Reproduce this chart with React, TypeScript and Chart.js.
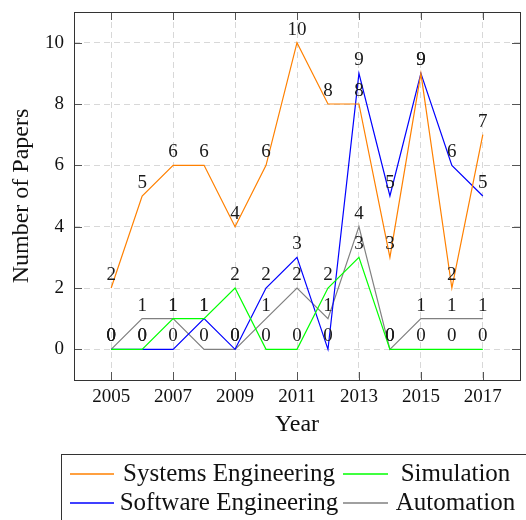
import React, { useEffect, useRef } from "react";
import { Chart, registerables } from "chart.js";

Chart.register(...registerables);

const years = [2005, 2006, 2007, 2008, 2009, 2010, 2011, 2012, 2013, 2014, 2015, 2016, 2017];
const systemsEngineering = [2, 5, 6, 6, 4, 6, 10, 8, 8, 3, 9, 2, 7];
const simulation = [0, 0, 1, 1, 2, 0, 0, 2, 3, 0, 0, 0, 0];
const softwareEngineering = [0, 0, 0, 1, 0, 2, 3, 0, 9, 5, 9, 6, 5];
const automation = [0, 1, 1, 0, 0, 1, 2, 1, 4, 0, 1, 1, 1];
const xTickYears = [2005, 2007, 2009, 2011, 2013, 2015, 2017];
const yTickValues = [0, 2, 4, 6, 8, 10];

const SERIF = "'Liberation Serif', 'Times New Roman', serif";

const toPoints = (arr: number[]) => years.map((x, i) => ({ x, y: arr[i] }));

const framePlugin = {
  id: "frameTicks",
  afterDraw(chart: any) {
    const { ctx, chartArea, scales } = chart;
    const { left, right, top, bottom } = chartArea;
    ctx.save();
    ctx.strokeStyle = "#555";
    ctx.lineWidth = 1;
    const tl = 8;
    ctx.beginPath();
    for (const t of scales.x.ticks) {
      const x = Math.round(scales.x.getPixelForValue(t.value)) + 0.5;
      ctx.moveTo(x, bottom);
      ctx.lineTo(x, bottom - tl);
      ctx.moveTo(x, top);
      ctx.lineTo(x, top + tl);
    }
    for (const t of scales.y.ticks) {
      const y = Math.round(scales.y.getPixelForValue(t.value)) + 0.5;
      ctx.moveTo(left, y);
      ctx.lineTo(left + tl, y);
      ctx.moveTo(right, y);
      ctx.lineTo(right - tl, y);
    }
    ctx.stroke();
    ctx.strokeStyle = "#333";
    ctx.strokeRect(Math.round(left) + 0.5, Math.round(top) + 0.5, Math.round(right - left), Math.round(bottom - top));

    // legend
    const datasets = chart.data.datasets;
    const boxLeft = 61.5;
    const boxTop = 454.5;
    ctx.strokeStyle = "#333";
    ctx.lineWidth = 1;
    ctx.strokeRect(boxLeft, boxTop, 500, 120);
    const rowY = [474, 503];
    const sampleX = [[70, 114], [343, 388]];
    const textCenter = [229, 455.5];
    ctx.font = `25px ${SERIF}`;
    ctx.textAlign = "center";
    ctx.textBaseline = "middle";
    datasets.forEach((ds: any, i: number) => {
      const col = i % 2;
      const row = Math.floor(i / 2);
      const y = rowY[row];
      ctx.strokeStyle = ds.borderColor;
      ctx.lineWidth = 1.4;
      ctx.beginPath();
      ctx.moveTo(sampleX[col][0], y);
      ctx.lineTo(sampleX[col][1], y);
      ctx.stroke();
      ctx.fillStyle = "#111";
      ctx.fillText(ds.label, textCenter[col], y);
    });
    ctx.restore();
  },
};

const labelPlugin = {
  id: "pointLabels",
  afterDatasetsDraw(chart: any) {
    const { ctx } = chart;
    ctx.save();
    ctx.font = `19px ${SERIF}`;
    ctx.textAlign = "center";
    ctx.textBaseline = "alphabetic";
    ctx.fillStyle = "#1a1a1a";
    chart.data.datasets.forEach((ds: any, di: number) => {
      const meta = chart.getDatasetMeta(di);
      meta.data.forEach((el: any, i: number) => {
        ctx.fillText(String(ds.data[i].y), el.x, el.y - 8);
      });
    });
    ctx.restore();
  },
};

export default function App() {
  const ref = useRef<HTMLCanvasElement | null>(null);
  useEffect(() => {
    document.body.style.margin = "0";
    const canvas = ref.current!;
    const chart = new Chart(canvas, {
      type: "line",
      data: {
        datasets: [
          { label: "Systems Engineering", data: toPoints(systemsEngineering), borderColor: "#ff8000", backgroundColor: "#ff8000" },
          { label: "Simulation", data: toPoints(simulation), borderColor: "#00ff00", backgroundColor: "#00ff00" },
          { label: "Software Engineering", data: toPoints(softwareEngineering), borderColor: "#0000ff", backgroundColor: "#0000ff" },
          { label: "Automation", data: toPoints(automation), borderColor: "#808080", backgroundColor: "#808080" },
        ].map((d) => ({ ...d, borderWidth: 1.2, pointRadius: 0, tension: 0, fill: false })),
      },
      options: {
        animation: false,
        responsive: false,
        devicePixelRatio: 1,
        layout: { padding: { left: 0, right: 6, top: 12, bottom: 80 } },
        plugins: { legend: { display: false }, tooltip: { enabled: false } },
        scales: {
          x: {
            type: "linear",
            min: 2003.8,
            max: 2018.2,
            afterBuildTicks: (scale: any) => {
              scale.ticks = xTickYears.map((v) => ({ value: v }));
            },
            afterFit: (scale: any) => {
              scale.height = 60;
              scale.paddingLeft = 0;
              scale.paddingRight = 0;
            },
            ticks: {
              callback: (v: any) => String(v),
              font: { family: SERIF, size: 19 },
              color: "#111",
              padding: 6,
              maxRotation: 0,
              autoSkip: false,
            },
            grid: { color: "#d8d8d8", drawTicks: false, lineWidth: 1 },
            border: { display: false, dash: [6, 4] },
            title: {
              display: true,
              text: "Year",
              font: { family: SERIF, size: 24 },
              color: "#111",
              padding: { top: 0, bottom: 1 },
            },
          },
          y: {
            type: "linear",
            min: -1,
            max: 11,
            afterBuildTicks: (scale: any) => {
              scale.ticks = yTickValues.map((v) => ({ value: v }));
            },
            afterFit: (scale: any) => {
              scale.width = 74;
              scale.paddingTop = 0;
              scale.paddingBottom = 0;
            },
            ticks: {
              callback: (v: any) => String(v),
              font: { family: SERIF, size: 19 },
              color: "#111",
              padding: 10,
            },
            grid: { color: "#d8d8d8", drawTicks: false, lineWidth: 1 },
            border: { display: false, dash: [6, 4] },
            title: {
              display: true,
              text: "Number of Papers",
              font: { family: SERIF, size: 24 },
              color: "#111",
              padding: { top: 7, bottom: 0 },
            },
          },
        },
      },
      plugins: [labelPlugin, framePlugin],
    } as any);
    return () => chart.destroy();
  }, []);
  return <canvas ref={ref} width={526} height={520} style={{ display: "block" }} />;
}
